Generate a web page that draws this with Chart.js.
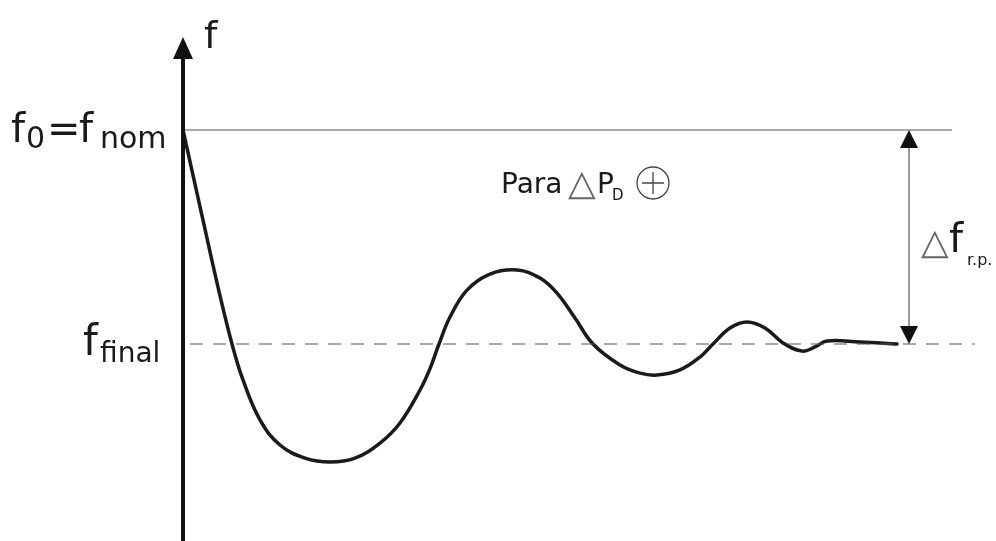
<!DOCTYPE html>
<html>
<head>
<meta charset="utf-8">
<script src="https://cdn.jsdelivr.net/npm/chart.js@4.4.0/dist/chart.umd.min.js"></script>
<style>
  html, body { margin: 0; padding: 0; background: #fff; }
  #wrap { width: 996px; height: 541px; position: relative; }
</style>
</head>
<body>
<div id="wrap"><canvas id="grafica"></canvas></div>
<script>
// respuesta de frecuencia ante un escalon de carga (unidades: s, Hz)
const tiempo = [0, 0.20, 0.35, 0.49, 0.60, 0.77, 0.97, 1.22, 1.47, 1.72, 1.97, 2.17, 2.37, 2.47, 2.56, 2.67, 2.84, 3.07, 3.34, 3.57, 3.74, 3.92, 4.10, 4.37, 4.57, 4.74, 4.97, 5.17, 5.30, 5.47, 5.64, 5.82, 6.00, 6.19, 6.32, 6.44, 6.77, 7.14];
const frecuencia = [50.000, 49.579, 49.266, 49.000, 48.832, 48.645, 48.528, 48.467, 48.449, 48.467, 48.537, 48.631, 48.785, 48.885, 49.000, 49.126, 49.252, 49.327, 49.346, 49.308, 49.238, 49.121, 49.000, 48.902, 48.864, 48.855, 48.879, 48.939, 49.000, 49.075, 49.103, 49.075, 49.005, 48.967, 48.986, 49.014, 49.009, 49.000];
const fNom = 50;
const fFinal = 49;
const tramoNom = [0, 7.69];
const tramoFinal = [0.07, 7.92];
const tFlecha = 7.26;

const curva = tiempo.map((t, i) => ({ x: t, y: frecuencia[i] }));

const anotaciones = {
  id: 'anotaciones',
  afterDatasetsDraw(chart) {
    const { ctx, scales } = chart;
    const x0 = scales.x.getPixelForValue(0);
    const yNom = scales.y.getPixelForValue(fNom);
    const yFin = scales.y.getPixelForValue(fFinal);
    const xa = scales.x.getPixelForValue(tFlecha);
    ctx.save();

    // eje f con flecha
    ctx.strokeStyle = '#111';
    ctx.fillStyle = '#111';
    ctx.lineWidth = 4;
    ctx.beginPath();
    ctx.moveTo(x0, 541);
    ctx.lineTo(x0, 55);
    ctx.stroke();
    ctx.beginPath();
    ctx.moveTo(x0, 37);
    ctx.lineTo(x0 - 10, 59);
    ctx.lineTo(x0 + 10, 59);
    ctx.closePath();
    ctx.fill();

    // flecha doble delta f
    ctx.strokeStyle = '#555';
    ctx.lineWidth = 1.2;
    ctx.beginPath();
    ctx.moveTo(xa, yNom + 15);
    ctx.lineTo(xa, yFin - 15);
    ctx.stroke();
    ctx.fillStyle = '#111';
    ctx.beginPath();
    ctx.moveTo(xa, yNom);
    ctx.lineTo(xa - 9, yNom + 18);
    ctx.lineTo(xa + 9, yNom + 18);
    ctx.closePath();
    ctx.fill();
    ctx.beginPath();
    ctx.moveTo(xa, yFin);
    ctx.lineTo(xa - 9, yFin - 18);
    ctx.lineTo(xa + 9, yFin - 18);
    ctx.closePath();
    ctx.fill();

    // textos
    const fuente = '"DejaVu Sans", sans-serif';
    ctx.fillStyle = '#1a1a1a';
    ctx.textBaseline = 'alphabetic';
    ctx.textAlign = 'left';

    ctx.font = '38px ' + fuente;
    ctx.fillText('f', 204, 48);

    ctx.font = '40px ' + fuente;
    ctx.fillText('f', 11, yNom + 12);
    ctx.font = '30px ' + fuente;
    ctx.fillText('0', 26, yNom + 18);
    ctx.font = '40px ' + fuente;
    ctx.fillText('=', 47, yNom + 12);
    ctx.fillText('f', 79, yNom + 12);
    ctx.font = '30px ' + fuente;
    ctx.fillText('nom', 100, yNom + 18);

    ctx.font = '42px ' + fuente;
    ctx.fillText('f', 83, yFin + 11);
    ctx.font = '28px ' + fuente;
    ctx.fillText('final', 100, yFin + 18);

    ctx.font = '28px ' + fuente;
    ctx.fillText('Para', 501, 193);
    ctx.fillStyle = '#666';
    ctx.font = '36px ' + fuente;
    ctx.fillText('\u25B3', 568, 195);
    ctx.fillStyle = '#1a1a1a';
    ctx.font = '28px ' + fuente;
    ctx.fillText('P', 597, 193);
    ctx.font = '15px ' + fuente;
    ctx.fillText('D', 612, 200);

    ctx.strokeStyle = '#444';
    ctx.lineWidth = 1.3;
    ctx.beginPath();
    ctx.arc(653, 183, 16, 0, Math.PI * 2);
    ctx.moveTo(642, 183);
    ctx.lineTo(664, 183);
    ctx.moveTo(653, 172);
    ctx.lineTo(653, 194);
    ctx.stroke();

    ctx.fillStyle = '#666';
    ctx.font = '36px ' + fuente;
    ctx.fillText('\u25B3', 921, 254);
    ctx.fillStyle = '#1a1a1a';
    ctx.font = '40px ' + fuente;
    ctx.fillText('f', 949, 252);
    ctx.font = '16px ' + fuente;
    ctx.fillText('r.p.', 967, 265);

    ctx.restore();
  }
};

new Chart(document.getElementById('grafica').getContext('2d'), {
  type: 'line',
  data: {
    datasets: [
      {
        data: tramoNom.map(t => ({ x: t, y: fNom })),
        borderColor: '#555',
        borderWidth: 1.2,
        pointRadius: 0,
        clip: false
      },
      {
        data: tramoFinal.map(t => ({ x: t, y: fFinal })),
        borderColor: '#555',
        borderWidth: 1.2,
        borderDash: [13, 10],
        pointRadius: 0,
        clip: false
      },
      {
        data: curva,
        borderColor: '#1a1a1a',
        borderWidth: 3.5,
        pointRadius: 0,
        tension: 0.4,
        borderCapStyle: 'round',
        borderJoinStyle: 'round',
        clip: false
      }
    ]
  },
  options: {
    responsive: true,
    maintainAspectRatio: false,
    animation: false,
    layout: {
      autoPadding: false,
      padding: { left: 183, right: 0, top: 44.4, bottom: 25.8 }
    },
    scales: {
      x: { type: 'linear', min: 0, max: 8.13, display: false },
      y: { type: 'linear', min: 48.2, max: 50.4, display: false }
    },
    plugins: {
      legend: { display: false },
      tooltip: { enabled: false }
    }
  },
  plugins: [anotaciones]
});
</script>
</body>
</html>
